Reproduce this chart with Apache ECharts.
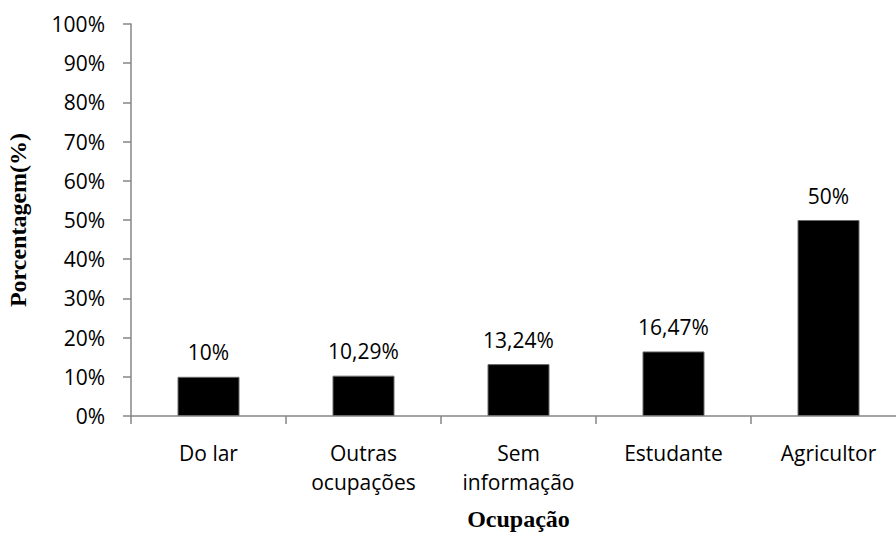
<!DOCTYPE html>
<html>
<head>
<meta charset="utf-8">
<script src="https://cdn.jsdelivr.net/npm/echarts@6/dist/echarts.min.js"></script>
<style>
    html, body { margin: 0; padding: 0; background: #ffffff; }
    #chart { width: 896px; height: 536px; }
</style>
</head>
<body>
<div id="chart"></div>
<script>
const categories = ['Do lar', 'Outras\nocupações', 'Sem\ninformação', 'Estudante', 'Agricultor'];
const values = [10, 10.29, 13.24, 16.47, 50];
const valueLabels = ['10%', '10,29%', '13,24%', '16,47%', '50%'];

const axisColor = '#868686';
const textColor = '#000000';
const labelFont = 'Open Sans, sans-serif';
const titleFont = 'Liberation Serif, Times New Roman, serif';

const chart = echarts.init(document.getElementById('chart'), null, { renderer: 'svg' });

chart.setOption({
    animation: false,
    textStyle: { fontFamily: labelFont },
    grid: { left: 131, top: 24, width: 775, height: 392, containLabel: false, outerBoundsMode: 'none' },
    xAxis: {
        type: 'category',
        data: categories,
        name: 'Ocupação',
        nameLocation: 'middle',
        nameGap: 91,
        nameTextStyle: { color: textColor, fontFamily: titleFont, fontWeight: 'bold', fontSize: 24 },
        axisLine: { lineStyle: { color: axisColor, width: 1.5 } },
        axisTick: { show: true, length: 8, lineStyle: { color: axisColor, width: 1.5 } },
        axisLabel: { color: textColor, fontSize: 21, margin: 22, lineHeight: 29, interval: 0 },
    },
    yAxis: {
        type: 'value',
        min: 0,
        max: 100,
        interval: 10,
        name: 'Porcentagem(%)',
        nameLocation: 'middle',
        nameGap: 101,
        nameTextStyle: { color: textColor, fontFamily: titleFont, fontWeight: 'bold', fontSize: 24 },
        axisLine: { show: true, lineStyle: { color: axisColor, width: 1.5 } },
        axisTick: { show: true, length: 8, lineStyle: { color: axisColor, width: 1.5 } },
        axisLabel: { color: textColor, fontSize: 21, margin: 26, formatter: '{value}%' },
        splitLine: { show: false },
    },
    series: [{
        type: 'bar',
        data: values,
        barWidth: 62,
        itemStyle: { color: '#000000', borderColor: '#6b6b6b', borderWidth: 1 },
        label: {
            show: true,
            position: 'top',
            distance: 14,
            color: textColor,
            fontSize: 21,
            formatter: (p) => valueLabels[p.dataIndex],
        },
    }],
});
</script>
</body>
</html>
